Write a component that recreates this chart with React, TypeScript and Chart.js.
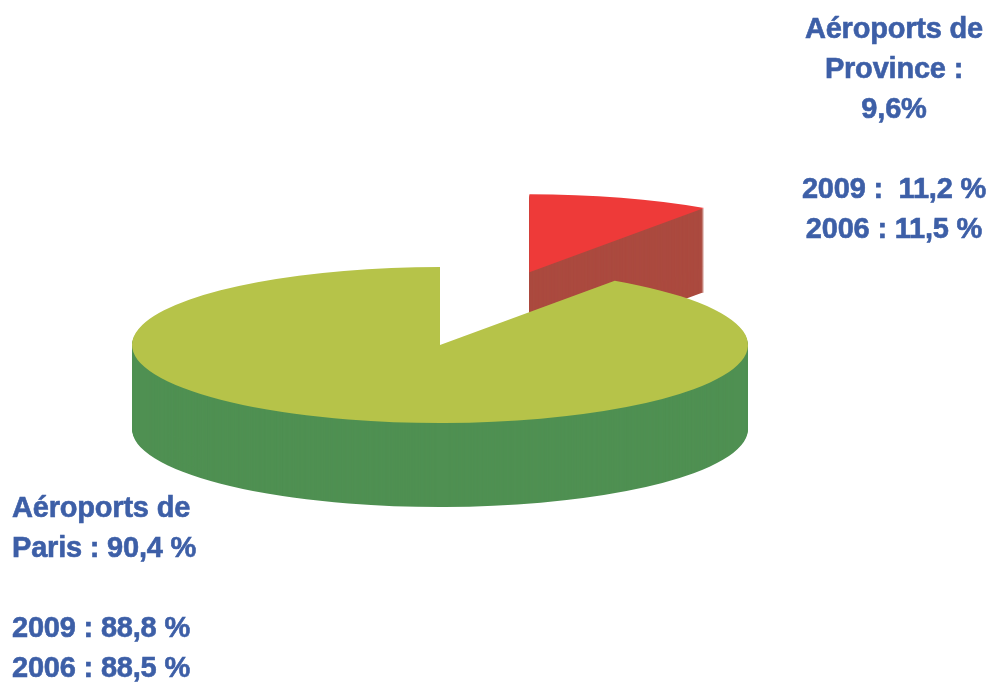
import { useEffect, useRef } from 'react';
import { Chart, registerables } from 'chart.js';

Chart.register(...registerables);

// ---- data ----
const categories = ['Aéroports de Province', 'Aéroports de Paris'];
const shareCurrent = [9.6, 90.4];
const share2009 = [11.2, 88.8];
const share2006 = [11.5, 88.5];
const yearLabels = ['2009', '2006'];

// ---- styles ----
const topColors = ['#ee3a39', '#b6c349'];
const sideColors = ['#ab4a3f', '#4f9052'];
const explodeDist = [301, 0];
const TEXT_COLOR = '#3d5fa7';

const fr = (v: number) => v.toFixed(1).replace('.', ',');

const pie3d = {
  id: 'pie3d',
  beforeDatasetsDraw(chart: any, _args: any, opts: any) {
    const meta = chart.getDatasetMeta(0);
    const ctx: CanvasRenderingContext2D = chart.ctx;
    const { squash, depth, cx, cy } = opts;
    const arcs = meta.data;
    for (let i = 0; i < arcs.length; i++) {
      const arc = arcs[i];
      const mid = (arc.startAngle + arc.endAngle) / 2;
      const ex = Math.cos(mid) * explodeDist[i];
      const ey = Math.sin(mid) * explodeDist[i];
      const orig = arc.options;
      const drawLayer = (dy: number, color: string) => {
        ctx.save();
        ctx.translate(cx, cy + dy);
        ctx.scale(1, squash);
        ctx.translate(ex - arc.x, ey - arc.y);
        arc.options = Object.assign({}, orig, { backgroundColor: color, borderWidth: 0 });
        arc.draw(ctx);
        ctx.restore();
      };
      for (let d = depth; d >= 1; d--) drawLayer(d, sideColors[i]);
      drawLayer(0, topColors[i]);
      arc.options = orig;
    }
    return false;
  },
};

export default function App() {
  const ref = useRef<HTMLCanvasElement>(null);

  useEffect(() => {
    if (!ref.current) return;
    const chart = new Chart(ref.current, {
      type: 'pie',
      data: {
        labels: categories,
        datasets: [
          {
            data: shareCurrent,
            backgroundColor: topColors,
            borderWidth: 0,
          },
        ],
      },
      options: {
        responsive: false,
        animation: false,
        events: [],
        radius: 308,
        rotation: 0,
        layout: { padding: 0 },
        plugins: {
          legend: { display: false },
          tooltip: { enabled: false },
          pie3d: { squash: 78 / 308, depth: 84, cx: 440, cy: 345 },
        } as any,
      } as any,
      plugins: [pie3d as any],
    });
    return () => chart.destroy();
  }, []);

  const textBase: React.CSSProperties = {
    position: 'absolute',
    fontFamily: '"Liberation Sans", Arial, sans-serif',
    fontWeight: 'bold',
    fontSize: 29,
    lineHeight: '40px',
    color: TEXT_COLOR,
    whiteSpace: 'pre',
    WebkitTextStroke: `0.6px ${TEXT_COLOR}`,
    letterSpacing: '-0.2px',
  } as any;

  return (
    <div style={{ position: 'absolute', left: 0, top: 0, width: 991, height: 683, background: '#fff', overflow: 'hidden' }}>
      <canvas ref={ref} width={991} height={683} style={{ position: 'absolute', left: 0, top: 0 }} />
      <div style={{ ...textBase, left: 794, width: 200, top: 8, textAlign: 'center' }}>
        {'Aéroports de\nProvince :\n' + fr(shareCurrent[0]) + '%\n\n' +
          yearLabels[0] + ' :  ' + fr(share2009[0]) + ' %\n' +
          yearLabels[1] + ' : ' + fr(share2006[0]) + ' %'}
      </div>
      <div style={{ ...textBase, left: 12, top: 487, textAlign: 'left' }}>
        {'Aéroports de\nParis : ' + fr(shareCurrent[1]) + ' %\n\n' +
          yearLabels[0] + ' : ' + fr(share2009[1]) + ' %\n' +
          yearLabels[1] + ' : ' + fr(share2006[1]) + ' %'}
      </div>
    </div>
  );
}
